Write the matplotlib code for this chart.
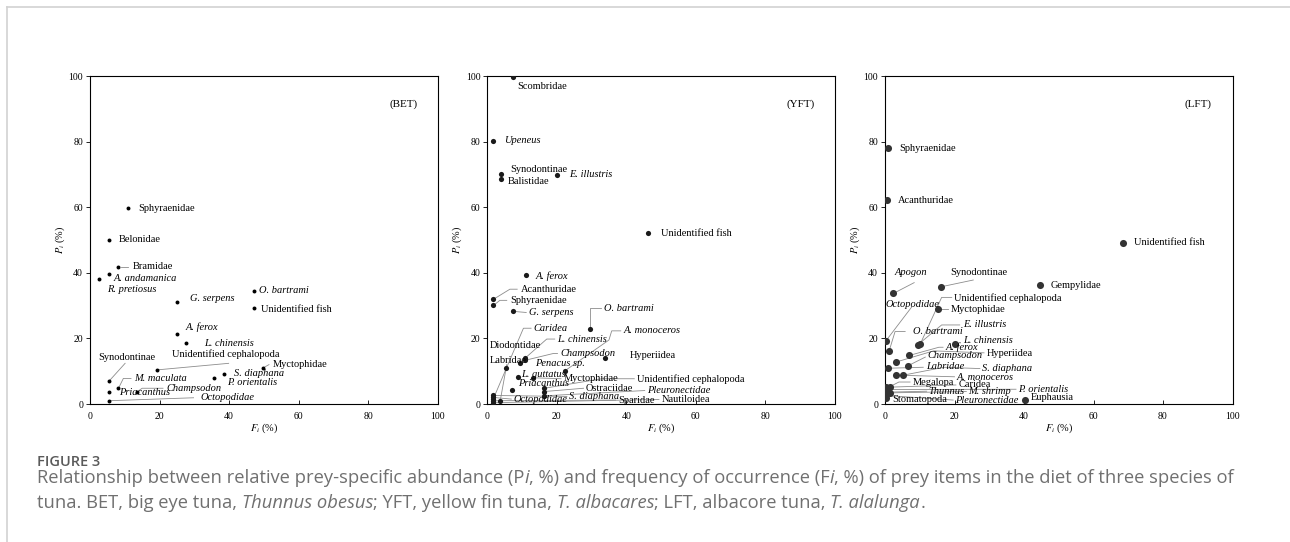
import matplotlib
matplotlib.use("Agg")
import matplotlib.pyplot as plt
from matplotlib.lines import Line2D
from matplotlib.transforms import IdentityTransform

plt.rcParams['font.family'] = 'Liberation Serif'
plt.rcParams['mathtext.fontset'] = 'stix'

# ---- BET: big eye tuna ----
bet_names = ['Sphyraenidae', 'Belonidae', 'Bramidae', 'A. andamanica', 'R. pretiosus',
             'G. serpens', 'O. bartrami', 'Unidentified fish', 'A. ferox', 'L. chinensis',
             'Unidentified cephalopoda', 'Myctophidae', 'S. diaphana', 'P. orientalis',
             'Synodontinae', 'M. maculata', 'Priacanthus', 'Champsodon', 'Octopodidae']
bet_fi = [11.0, 5.5, 8.2, 5.5, 2.7, 24.9, 47.1, 47.1, 24.9, 27.6,
          19.3, 49.9, 38.7, 35.8, 5.5, 8.2, 5.5, 13.4, 5.5]
bet_pi = [59.9, 50.0, 41.9, 39.5, 38.0, 31.1, 34.5, 29.2, 21.3, 18.6,
          10.4, 11.1, 9.1, 7.9, 7.0, 4.8, 3.6, 3.6, 1.0]
bet_italic = {'A. andamanica', 'R. pretiosus', 'G. serpens', 'O. bartrami', 'A. ferox',
              'L. chinensis', 'S. diaphana', 'P. orientalis', 'M. maculata',
              'Priacanthus', 'Champsodon', 'Octopodidae'}
bet_text_xy = [(14.0, 59.7), (8.4, 50.0), (12.2, 41.8), (6.7, 38.3), (4.8, 34.9),
               (28.7, 32.1), (48.7, 34.5), (49.2, 28.7), (27.4, 23.5), (32.9, 18.4),
               (23.5, 15.1), (52.6, 12.0), (41.3, 9.2), (39.4, 6.6),
               (2.4, 14.1), (12.7, 7.8), (8.5, 3.6), (22.1, 4.6), (31.9, 1.9)]
bet_leaders = {
    'Bramidae': [(9.0, 41.9), (11.0, 41.9)],
    'Unidentified cephalopoda': [(19.3, 10.4), (39.9, 12.4)],
    'Myctophidae': [(50.3, 11.3), (51.5, 12.0)],
    'Synodontinae': [(5.5, 7.0), (10.1, 12.4)],
    'M. maculata': [(8.2, 4.8), (9.6, 7.8), (11.8, 7.8)],
    'Champsodon': [(13.4, 3.6), (15.0, 4.8), (21.0, 4.8)],
    'Octopodidae': [(5.5, 1.0), (29.8, 1.9)],
}

# ---- YFT: yellow fin tuna ----
yft_names = ['Scombridae', 'Upeneus', 'Synodontinae', 'Balistidae', 'E. illustris',
             'Unidentified fish', 'A. ferox', 'Acanthuridae', 'Sphyraenidae', 'G. serpens',
             'O. bartrami', 'Caridea', 'L. chinensis', 'Diodontidae', 'Champsodon',
             'Penacus sp.', 'Hyperiidea', 'A. monoceros', 'Labridae', 'L. guttatus',
             'Myctophidae', 'Unidentified cephalopoda', 'Priacanthus', 'Ostraciidae',
             'Pleuronectidae', 'S. diaphana', 'Octopodidae', 'Sparidae', 'Nautiloidea']
yft_fi = [7.5, 1.7, 3.8, 3.8, 20.2, 46.3, 11.1, 1.7, 1.7, 7.3,
          29.5, 1.7, 10.8, 3.7, 10.8, 9.4, 33.9, 22.3, 5.3, 8.9,
          13.1, 16.4, 7.0, 16.4, 16.4, 1.7, 1.7, 1.7, 1.7]
yft_pi = [99.8, 80.2, 70.1, 68.5, 69.7, 52.1, 39.3, 31.9, 30.1, 28.4,
          23.0, 1.5, 13.9, 0.9, 13.3, 12.4, 13.9, 10.1, 10.9, 8.3,
          8.0, 4.8, 4.3, 3.8, 2.5, 2.6, 2.0, 1.0, 0.4]
yft_italic = {'Upeneus', 'E. illustris', 'A. ferox', 'G. serpens', 'O. bartrami', 'Caridea',
              'L. chinensis', 'Champsodon', 'Penacus sp.', 'A. monoceros', 'L. guttatus',
              'Priacanthus', 'Pleuronectidae', 'S. diaphana', 'Octopodidae'}
yft_text_xy = [(8.7, 96.7), (4.9, 80.2), (6.6, 71.5), (5.8, 67.7), (23.6, 69.9),
               (50.1, 52.0), (13.9, 39.1), (9.7, 35.0), (6.6, 31.6), (12.1, 27.9),
               (33.6, 29.2), (13.4, 23.1), (20.1, 19.8), (0.8, 17.7), (20.9, 15.4),
               (13.7, 12.4), (41.0, 14.8), (39.1, 22.3), (0.8, 13.4), (9.6, 9.0),
               (21.9, 7.7), (43.1, 7.7), (8.9, 6.1), (28.4, 4.8),
               (46.1, 4.1), (23.6, 2.3), (7.5, 1.5), (37.6, 1.2), (50.1, 1.4)]
yft_leaders = {
    'Acanthuridae': [(2.2, 32.2), (6.5, 35.0), (8.6, 35.0)],
    'Sphyraenidae': [(2.2, 30.4), (3.6, 31.6), (5.6, 31.6)],
    'G. serpens': [(8.0, 28.2), (11.2, 27.9)],
    'O. bartrami': [(29.5, 23.6), (29.5, 29.2), (32.6, 29.2)],
    'Caridea': [(1.7, 1.5), (10.4, 23.1), (12.6, 23.1)],
    'L. chinensis': [(10.8, 13.9), (17.1, 19.8), (19.4, 19.8)],
    'Diodontidae': [(3.7, 0.9), (5.6, 12.0)],
    'Champsodon': [(10.8, 13.3), (19.0, 15.4), (20.2, 15.4)],
    'A. monoceros': [(22.3, 10.1), (35.0, 19.5), (35.8, 22.3), (38.4, 22.3)],
    'Myctophidae': [(13.1, 8.0), (21.2, 7.7)],
    'Unidentified cephalopoda': [(16.4, 4.8), (33.0, 7.7), (42.3, 7.7)],
    'Ostraciidae': [(16.4, 3.8), (27.7, 4.8)],
    'Pleuronectidae': [(16.4, 2.5), (45.3, 4.1)],
    'S. diaphana': [(1.7, 2.6), (22.9, 2.3)],
    'Octopodidae': [(1.7, 2.0), (6.9, 1.5)],
    'Sparidae': [(1.7, 1.0), (36.9, 1.2)],
    'Nautiloidea': [(1.7, 0.4), (49.4, 1.4)],
}

# ---- LFT: albacore tuna ----
lft_names = ['Sphyraenidae', 'Acanthuridae', 'Unidentified fish', 'Gempylidae', 'Apogon',
             'Synodontinae', 'Unidentified cephalopoda', 'Myctophidae', 'Octopodidae',
             'E. illustris', 'O. bartrami', 'L. chinensis', 'A. ferox', 'Hyperiidea',
             'Champsodon', 'Labridae', 'S. diaphana', 'A. monoceros', 'Megalopa',
             'Caridea', 'P. orientalis', 'Thunnus', 'M. shrimp', 'Euphausia',
             'Pleuronectidae', 'Stomatopoda']
lft_fi = [1.0, 0.5, 68.4, 44.5, 2.4, 16.0, 10.1, 15.3, 0.3,
          9.4, 1.2, 20.2, 7.0, 3.2, 6.5, 0.8, 5.3, 3.1, 1.4,
          0.3, 0.3, 0.3, 1.4, 40.3, 0.3, 0.2]
lft_pi = [78.2, 62.2, 49.2, 36.2, 33.7, 35.7, 18.2, 28.9, 19.3,
          18.0, 16.2, 18.2, 14.8, 12.8, 11.6, 10.9, 8.8, 8.8, 5.3,
          5.1, 4.4, 3.6, 3.4, 1.2, 2.6, 1.7]
lft_italic = {'Apogon', 'Octopodidae', 'E. illustris', 'O. bartrami', 'L. chinensis',
              'A. ferox', 'Champsodon', 'Labridae', 'S. diaphana', 'A. monoceros',
              'P. orientalis', 'Thunnus', 'M. shrimp', 'Pleuronectidae'}
lft_text_xy = [(4.1, 77.8), (3.6, 62.1), (71.6, 49.1), (47.6, 36.1), (2.7, 40.2),
               (18.8, 40.2), (20.0, 32.3), (18.8, 28.7), (0.2, 30.2),
               (22.6, 24.1), (8.2, 22.1), (22.6, 19.5), (17.3, 17.3), (29.3, 15.4),
               (12.3, 14.7), (11.7, 11.4), (28.0, 10.7), (20.6, 8.1), (7.9, 6.7),
               (21.1, 5.8), (38.4, 4.5), (12.6, 3.9), (24.0, 3.8), (42.0, 2.0),
               (20.2, 1.2), (2.1, 1.3)]
lft_leaders = {
    'Apogon': [(2.4, 33.7), (8.4, 37.0)],
    'Synodontinae': [(16.0, 35.7), (25.4, 37.8)],
    'Unidentified cephalopoda': [(10.1, 18.2), (16.3, 32.5), (19.2, 32.5)],
    'Myctophidae': [(15.8, 28.9), (18.2, 28.9)],
    'Octopodidae': [(0.3, 19.3), (7.7, 29.6)],
    'E. illustris': [(9.4, 18.0), (16.3, 24.1), (21.5, 24.1)],
    'O. bartrami': [(1.2, 16.2), (2.9, 22.1), (5.8, 22.1)],
    'A. ferox': [(7.0, 14.8), (15.5, 17.3), (16.7, 17.3)],
    'Hyperiidea': [(3.2, 12.8), (14.0, 16.2), (28.5, 15.6)],
    'Champsodon': [(6.5, 11.6), (11.6, 14.3)],
    'Labridae': [(0.8, 10.9), (11.0, 11.2)],
    'S. diaphana': [(5.3, 8.8), (17.0, 11.2), (27.3, 10.8)],
    'A. monoceros': [(3.1, 8.8), (20.0, 8.3)],
    'Megalopa': [(1.4, 5.3), (4.0, 6.7), (7.2, 6.7)],
    'Caridea': [(0.3, 5.1), (20.4, 5.8)],
    'P. orientalis': [(0.3, 4.4), (37.7, 4.5)],
    'Thunnus': [(0.3, 3.6), (12.0, 3.9)],
    'M. shrimp': [(1.4, 3.4), (23.4, 3.8)],
    'Pleuronectidae': [(0.3, 2.6), (19.6, 1.2)],
}

panels = [
    ('(BET)', bet_names, bet_fi, bet_pi, bet_italic, bet_text_xy, bet_leaders, 8, 'black'),
    ('(YFT)', yft_names, yft_fi, yft_pi, yft_italic, yft_text_xy, yft_leaders, 14, '#1a1a1a'),
    ('(LFT)', lft_names, lft_fi, lft_pi, lft_italic, lft_text_xy, lft_leaders, 26, '#333333'),
]
lefts = [90, 487.3, 885]

W, H = 1290, 542
fig = plt.figure(figsize=(W / 100, H / 100), dpi=100)

for left, (tag, names, fi, pi, italic, text_xy, leaders, msize, mcolor) in zip(lefts, panels):
    ax = fig.add_axes([left / W, (H - 404) / H, 347.5 / W, 328 / H])
    for name, pts in leaders.items():
        xs, ys = zip(*pts)
        ax.plot(xs, ys, color='#8c8c8c', lw=0.6, zorder=1)
    ax.scatter(fi, pi, s=msize, color=mcolor, zorder=3, linewidths=0)
    for name, (tx, ty) in zip(names, text_xy):
        ax.text(tx, ty, name, fontsize=7.5, ha='left', va='center',
                style='italic' if name in italic else 'normal', zorder=4)
    ax.text(86.2, 91.4, tag, fontsize=8, ha='left', va='center')
    ax.set_xlim(0, 100)
    ax.set_ylim(0, 100)
    ax.set_xticks(range(0, 101, 20))
    ax.set_yticks(range(0, 101, 20))
    ax.tick_params(axis='x', direction='in', length=3, width=0.6, pad=6, labelsize=7)
    ax.tick_params(axis='y', direction='out', length=3, width=0.6, pad=2, labelsize=7)
    for sp in ax.spines.values():
        sp.set_linewidth(0.8)
    ax.set_xlabel('$F_i$ (%)', fontsize=7.5, labelpad=0)
    ax.set_ylabel('$P_i$ (%)', fontsize=7.5, labelpad=1)

# thin page frame
fig.add_artist(Line2D([7 / W, 1], [1 - 7 / H] * 2, transform=fig.transFigure,
                      color='#d2d2d2', lw=1.2))
fig.add_artist(Line2D([7 / W] * 2, [0, 1 - 7 / H], transform=fig.transFigure,
                      color='#d2d2d2', lw=1.2))

# caption
cap_font = 'Open Sans'
cap_color = '#707070'
renderer = fig.canvas.get_renderer()

line1 = [('Relationship between relative prey-specific abundance (P', 'normal'),
         ('i', 'italic'),
         (', %) and frequency of occurrence (F', 'normal'),
         ('i', 'italic'),
         (', %) of prey items in the diet of three species of', 'normal')]
line2 = [('tuna. BET, big eye tuna, ', 'normal'),
         ('Thunnus obesus', 'italic'),
         ('; YFT, yellow fin tuna, ', 'normal'),
         ('T. albacares', 'italic'),
         ('; LFT, albacore tuna, ', 'normal'),
         ('T. alalunga', 'italic'),
         ('.', 'normal')]


def rich_line(x, y, parts, size):
    texts = []
    for s, st in parts:
        t = fig.text(x, H - y, s, transform=IdentityTransform(), family=cap_font,
                     fontsize=size, style=st, color=cap_color, va='baseline', ha='left')
        x += t.get_window_extent(renderer).width
        texts.append(t)
    return x, texts


# size the caption so the first line runs 37 -> 1235 px
end, tmp = rich_line(37, 483, line1, 10)
for t in tmp:
    t.remove()
cap_size = 10 * (1235 - 37) / (end - 37)
rich_line(37, 483, line1, cap_size)
rich_line(37, 508, line2, cap_size)

fig.text(37, H - 466, 'FIGURE 3', transform=IdentityTransform(), family=cap_font,
         fontsize=10.5, fontweight='semibold', color='#5a5a5a', va='baseline')

fig.savefig('out.png', dpi=100)
